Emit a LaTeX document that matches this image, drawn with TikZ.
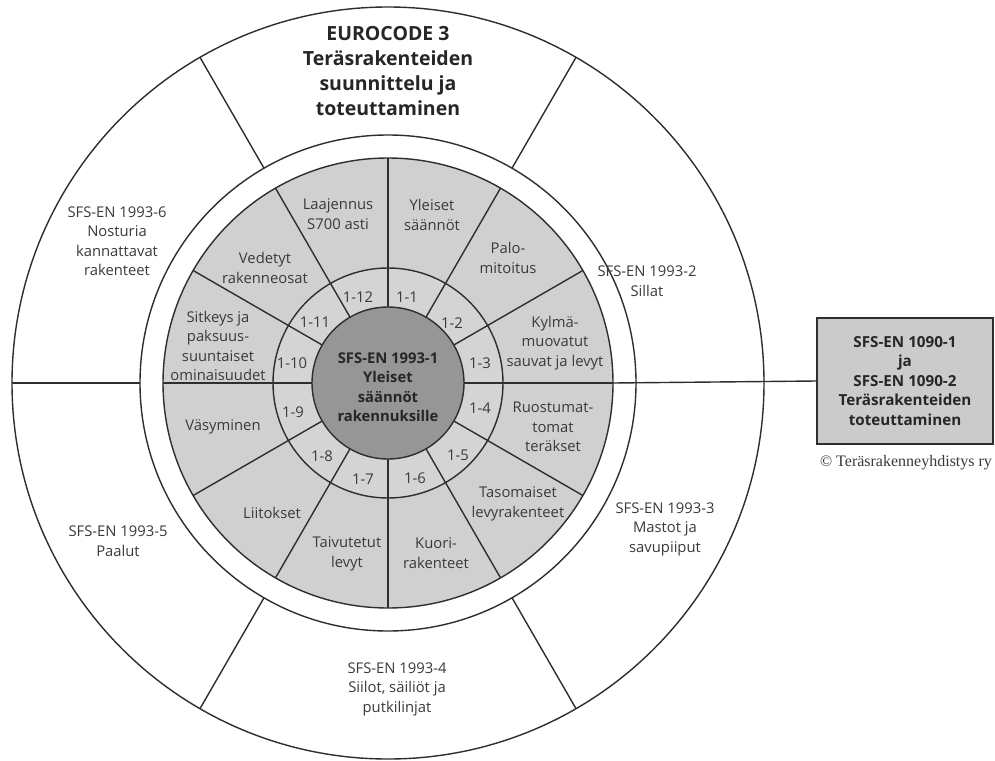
\documentclass[tikz,border=0pt]{standalone}
\usepackage{fontspec}
\setmainfont{Open Sans}
\newfontfamily\crfont{Liberation Serif}
\definecolor{lncol}{HTML}{2E2E2E}
\definecolor{txtcol}{HTML}{3A3A3A}
\definecolor{secgray}{HTML}{D0D0D0}
\definecolor{numgray}{HTML}{D4D4D4}
\definecolor{midgray}{HTML}{969696}
\definecolor{boxgray}{HTML}{CBCBCB}
\tikzset{
  ln/.style={draw=lncol, line width=1.4pt},
  lbl/.style={align=center, font=\fontsize{14.8}{19.5}\selectfont, text=txtcol, inner sep=0pt},
  num/.style={font=\fontsize{14.8}{18}\selectfont, text=txtcol, inner sep=0pt},
  bld/.style={align=center, font=\bfseries\fontsize{14.8}{19.5}\selectfont, text=black!85, inner sep=0pt},
  ttl/.style={align=center, font=\bfseries\fontsize{19.5}{25}\selectfont, text=black!85, inner sep=0pt},
  boxnode/.style={ln, fill=boxgray, minimum width=176pt, minimum height=126pt, align=center,
    font=\bfseries\fontsize{15.2}{19.5}\selectfont, text=black!85, inner sep=0pt},
  crnode/.style={font=\crfont\fontsize{16}{18}\selectfont, text=txtcol, inner sep=0pt}
}
\begin{document}
\begin{tikzpicture}[x=1pt,y=-1pt]
\useasboundingbox (0,0) rectangle (995,760);
\fill[white] (0,0) rectangle (995,760);
\def\cx{388}\def\cy{383}
% rings
\draw[ln] (\cx,\cy) circle[radius=376];
\draw[ln] (\cx,\cy) circle[radius=248];
\filldraw[ln, fill=secgray] (\cx,\cy) circle[radius=225];
\filldraw[ln, fill=numgray] (\cx,\cy) circle[radius=115];
% inner sector lines
\foreach \a in {0,30,...,330}
  \draw[ln] ({\cx+76*cos(\a)},{\cy-76*sin(\a)}) -- ({\cx+225*cos(\a)},{\cy-225*sin(\a)});
\filldraw[ln, fill=midgray] (\cx,\cy) circle[radius=76];
% outer sector lines
\foreach \a in {60,120,180,240,300}
  \draw[ln] ({\cx+248*cos(\a)},{\cy-248*sin(\a)}) -- ({\cx+376*cos(\a)},{\cy-376*sin(\a)});
\coordinate (ringE) at ({\cx+225},\cy);
% box and connector
\node[boxnode] (box) at (905,381) {SFS-EN 1090-1\\ja\\SFS-EN 1090-2\\Teräsrakenteiden\\toteuttaminen};
\draw[ln] (ringE) -- (box.west);
\node[crnode] (copy) at (906,463) {© Teräsrakenneyhdistys ry};
% title and outer labels
\node[ttl] (title) at (388,71) {EUROCODE 3\\Teräsrakenteiden\\suunnittelu ja\\toteuttaminen};
\node[lbl] (o2) at (647,281) {SFS-EN 1993-2\\Sillat};
\node[lbl] (o3) at (665,529) {SFS-EN 1993-3\\Mastot ja\\savupiiput};
\node[lbl] (o4) at (397,689) {SFS-EN 1993-4\\Siilot, säiliöt ja\\putkilinjat};
\node[lbl] (o5) at (118,541) {SFS-EN 1993-5\\Paalut};
\node[lbl] (o6) at (117,241) {SFS-EN 1993-6\\Nosturia\\kannattavat\\rakenteet};
% sector labels
\node[lbl] (s1) at (432,215) {Yleiset\\säännöt};
\node[lbl] (s2) at (508,258) {Palo-\\mitoitus};
\node[lbl] (s3) at (555,343) {Kylmä-\\muovatut\\sauvat ja levyt};
\node[lbl] (s4) at (553,427) {Ruostumat-\\tomat\\teräkset};
\node[lbl] (s5) at (518,504) {Tasomaiset\\levyrakenteet};
\node[lbl] (s6) at (436,553) {Kuori-\\rakenteet};
\node[lbl] (s7) at (347,554) {Taivutetut\\levyt};
\node[lbl] (s8) at (272,513) {Liitokset};
\node[lbl] (s9) at (223,427) {Väsyminen};
\node[lbl] (s10) at (218,346) {Sitkeys ja\\paksuus-\\suuntaiset\\ominaisuudet};
\node[lbl] (s11) at (265,268) {Vedetyt\\rakenneosat};
\node[lbl] (s12) at (338,214) {Laajennus\\S700 asti};
% numbers
\node[num] (n1) at (407,297) {1-1};
\node[num] (n2) at (452,323) {1-2};
\node[num] (n3) at (480,363) {1-3};
\node[num] (n4) at (480,408) {1-4};
\node[num] (n5) at (458,455) {1-5};
\node[num] (n6) at (415,478) {1-6};
\node[num] (n7) at (363,479) {1-7};
\node[num] (n8) at (322,456) {1-8};
\node[num] (n9) at (293,412) {1-9};
\node[num] (n10) at (292,363) {1-10};
\node[num] (n11) at (315,322) {1-11};
\node[num] (n12) at (358,297) {1-12};
% centre
\node[bld] (core) at (388,387) {SFS-EN 1993-1\\Yleiset\\säännöt\\rakennuksille};
\end{tikzpicture}
\end{document}
